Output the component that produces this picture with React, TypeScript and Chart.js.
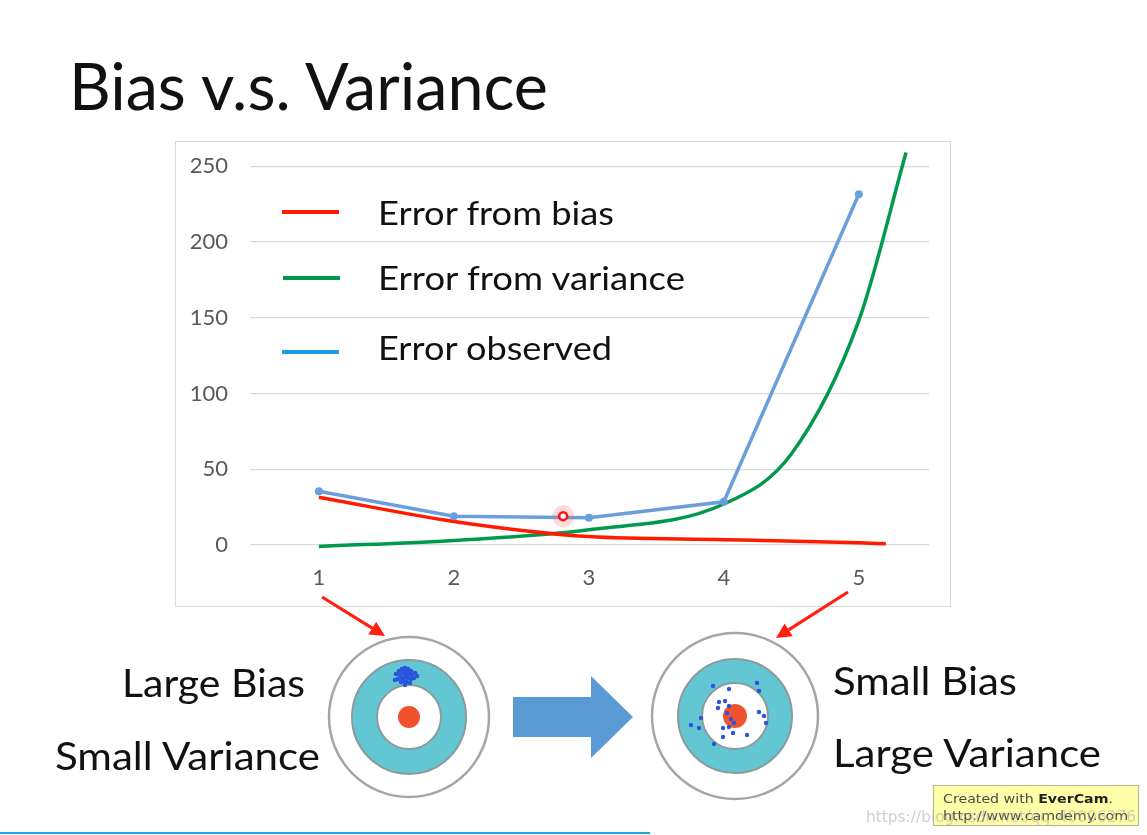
import React, { useEffect, useRef } from "react";
import { Chart, registerables } from "chart.js";
Chart.register(...registerables);

// ---- data ----
const xTicks = [1, 2, 3, 4, 5];
const yTicks = [0, 50, 100, 150, 200, 250];
const biasX = [1, 2, 3, 4, 5, 5.2];
const biasY = [31.5, 15.5, 5.5, 3.5, 1.4, 0.8];
const varianceX = [1, 2, 3, 4, 4.5, 5, 5.35];
const varianceY = [-1, 3, 10, 27, 60, 148, 259];
const observedX = [1, 2, 3, 4, 5];
const observedY = [35.5, 19, 18, 28.5, 231.5];
const cursorX = [2.81];
const cursorY = [19];
const legendLabels = ["Error from bias", "Error from variance", "Error observed"];
const titleText = "Bias v.s. Variance";

// decorative dot offsets for the targets
const leftCluster = [
  [-10, -3], [-7, -6], [-4, -8], [-1, -9], [2, -8], [5, -6], [-6, -2], [-3, -4], [0, -5], [3, -3],
  [6, -2], [9, -4], [-8, 2], [-4, 1], [-1, 0], [2, 1], [5, 2], [8, 1], [-5, 5], [-2, 4], [1, 5],
  [4, 6], [-1, 8], [11, -1], [-11, 3], [0, -2], [-2, -7], [3, -6],
];
const rightDots = [
  [713, 686], [729, 689], [757, 683], [759, 691], [719, 702], [725, 701], [718, 708], [729, 706],
  [701, 718], [691, 725], [699, 728], [759, 712], [764, 716], [766, 723], [731, 719], [734, 723],
  [723, 728], [729, 727], [733, 733], [723, 737], [747, 735], [714, 744], [727, 713],
];

const zip = (xs: number[], ys: number[]) => xs.map((x, i) => ({ x, y: ys[i] }));

function arrowHead(x1: number, y1: number, x2: number, y2: number, len: number, half: number) {
  const dx = x2 - x1, dy = y2 - y1;
  const d = Math.hypot(dx, dy);
  const ux = dx / d, uy = dy / d;
  const bx = x2 - ux * len, by = y2 - uy * len;
  const px = -uy * half, py = ux * half;
  return {
    pts: `${x2},${y2} ${bx + px},${by + py} ${bx - px},${by - py}`,
    bx, by,
  };
}

function RedArrow({ x1, y1, x2, y2 }: { x1: number; y1: number; x2: number; y2: number }) {
  const h = arrowHead(x1, y1, x2, y2, 15, 7.5);
  return (
    <g>
      <line x1={x1} y1={y1} x2={h.bx} y2={h.by} stroke="#ff2010" strokeWidth={3.2} />
      <polygon points={h.pts} fill="#ff2010" />
    </g>
  );
}

function Target({ cx, cy, r1, r2, r3, r4 }: any) {
  return (
    <g>
      <circle cx={cx} cy={cy} r={r1} fill="#ffffff" stroke="#a6a6a6" strokeWidth={2.5} />
      <circle cx={cx} cy={cy} r={r2} fill="#62c7d3" stroke="#8c9a9c" strokeWidth={2} />
      <circle cx={cx} cy={cy} r={r3} fill="#ffffff" stroke="#8c9a9c" strokeWidth={2} />
      <circle cx={cx} cy={cy} r={r4} fill="#f0522e" />
    </g>
  );
}

export default function App() {
  const ref = useRef<HTMLCanvasElement | null>(null);

  useEffect(() => {
    if (!ref.current) return;
    const tickFont = { family: "Lato", size: 22 };
    const chart = new Chart(ref.current, {
      type: "line",
      data: {
        datasets: [
          {
            label: "cursor-ring",
            data: zip(cursorX, cursorY),
            showLine: false,
            pointRadius: 4,
            pointBackgroundColor: "#ffffff",
            pointBorderColor: "#ff1010",
            pointBorderWidth: 2.5,
            order: 0,
          },
          {
            label: "cursor-glow",
            data: zip(cursorX, cursorY),
            showLine: false,
            pointRadius: 11,
            pointBackgroundColor: "rgba(255,90,90,0.22)",
            pointBorderWidth: 0,
            order: 1,
          },
          {
            label: legendLabels[2],
            data: zip(observedX, observedY),
            borderColor: "#6a9fdc",
            backgroundColor: "#6a9fdc",
            borderWidth: 3.5,
            tension: 0,
            pointRadius: 4,
            pointBackgroundColor: "#6a9fdc",
            pointBorderWidth: 0,
            order: 2,
          },
          {
            label: legendLabels[0],
            data: zip(biasX, biasY),
            borderColor: "#ff1a00",
            borderWidth: 3.5,
            cubicInterpolationMode: "monotone",
            pointRadius: 0,
            order: 3,
          },
          {
            label: legendLabels[1],
            data: zip(varianceX, varianceY),
            borderColor: "#00994d",
            borderWidth: 3.5,
            cubicInterpolationMode: "monotone",
            pointRadius: 0,
            order: 4,
          },
        ],
      },
      options: {
        animation: false,
        responsive: false,
        maintainAspectRatio: false,
        layout: { autoPadding: false, padding: { top: 6, right: 21, left: 0, bottom: 0 } },
        plugins: { legend: { display: false }, tooltip: { enabled: false } },
        datasets: { line: { clip: false } as any },
        scales: {
          x: {
            type: "linear",
            min: 0.49,
            max: 5.52,
            afterBuildTicks: (s: any) => {
              s.ticks = xTicks.map((v) => ({ value: v }));
            },
            afterFit: (s: any) => {
              s.height = 55;
              s.paddingLeft = 0;
              s.paddingRight = 0;
            },
            grid: { display: false },
            border: { display: false },
            ticks: { padding: 6, font: tickFont, color: "#595959", autoSkip: false, maxRotation: 0 },
          },
          y: {
            type: "linear",
            min: -4,
            max: 262,
            afterBuildTicks: (s: any) => {
              s.ticks = yTicks.map((v) => ({ value: v }));
            },
            afterFit: (s: any) => {
              s.width = 74;
              s.paddingTop = 0;
              s.paddingBottom = 0;
            },
            grid: { color: "#d9d9d9", lineWidth: 1.3, drawTicks: false },
            border: { display: false },
            ticks: { padding: 22, font: tickFont, color: "#595959" },
          },
        },
      } as any,
    });
    return () => chart.destroy();
  }, []);

  const font = "Lato, 'Open Sans', sans-serif";

  return (
    <div
      style={{
        position: "absolute",
        left: 0,
        top: 0,
        width: 1147,
        height: 835,
        background: "#ffffff",
        overflow: "hidden",
      }}
    >
      <div
        style={{
          position: "absolute",
          left: 175,
          top: 141,
          width: 774,
          height: 464,
          border: "1px solid #d9d9d9",
        }}
      >
        <canvas ref={ref} width={774} height={464} style={{ width: 774, height: 464, display: "block" }} />
      </div>

      <svg
        width={1147}
        height={835}
        style={{ position: "absolute", left: 0, top: 0, pointerEvents: "none" }}
        fontFamily={font}
      >
        {/* title */}
        <text x={69} y={110} fontSize={66} fontWeight={400} fill="#111" textLength={479} lengthAdjust="spacingAndGlyphs">
          {titleText}
        </text>

        {/* legend */}
        <line x1={282} y1={212} x2={339} y2={212} stroke="#ff1a00" strokeWidth={4} />
        <line x1={283} y1={278} x2={340} y2={278} stroke="#00994d" strokeWidth={4} />
        <line x1={282} y1={352} x2={339} y2={352} stroke="#1e9de3" strokeWidth={4} />
        <text x={378} y={225} fontSize={32} fill="#111" textLength={236} lengthAdjust="spacingAndGlyphs">
          {legendLabels[0]}
        </text>
        <text x={378} y={290} fontSize={32} fill="#111" textLength={307} lengthAdjust="spacingAndGlyphs">
          {legendLabels[1]}
        </text>
        <text x={378} y={360} fontSize={32} fill="#111" textLength={234} lengthAdjust="spacingAndGlyphs">
          {legendLabels[2]}
        </text>

        {/* red arrows */}
        <RedArrow x1={322} y1={597} x2={385} y2={636} />
        <RedArrow x1={848} y1={592} x2={776} y2={638} />

        {/* left target */}
        <Target cx={409} cy={717} r1={80} r2={57} r3={32} r4={11} />
        {leftCluster.map(([dx, dy], i) => (
          <circle key={"l" + i} cx={406 + dx} cy={677 + dy} r={2.3} fill="#2a55dc" />
        ))}

        {/* right target */}
        <Target cx={735} cy={716} r1={83} r2={57} r3={33} r4={12} />
        {rightDots.map(([x, y], i) => (
          <circle key={"r" + i} cx={x} cy={y} r={2.2} fill="#2a55dc" />
        ))}

        {/* big blue arrow */}
        <polygon points="513,697 591,697 591,676 633,717 591,758 591,737 513,737" fill="#5b9bd5" />

        {/* bottom labels */}
        <text x={122} y={697} fontSize={38} fill="#111" textLength={183} lengthAdjust="spacingAndGlyphs">
          Large Bias
        </text>
        <text x={55} y={770} fontSize={38} fill="#111" textLength={265} lengthAdjust="spacingAndGlyphs">
          Small Variance
        </text>
        <text x={833} y={695} fontSize={38} fill="#111" textLength={184} lengthAdjust="spacingAndGlyphs">
          Small Bias
        </text>
        <text x={833} y={767} fontSize={38} fill="#111" textLength={268} lengthAdjust="spacingAndGlyphs">
          Large Variance
        </text>

        {/* watermark box */}
        <rect x={933.5} y={785.5} width={205} height={40} fill="#ffffa8" stroke="#b4b49a" strokeWidth={1} />
        <text x={943} y={803} fontSize={13} fill="#4a4a4a" fontFamily="'DejaVu Sans', sans-serif" textLength={170} lengthAdjust="spacingAndGlyphs">
          Created with <tspan fontWeight={700} fill="#222">EverCam</tspan>.
        </text>
        <text x={943} y={820} fontSize={13} fill="#4a4a4a" fontFamily="'DejaVu Sans', sans-serif" textLength={185} lengthAdjust="spacingAndGlyphs">
          http://www.camdemy.com
        </text>
        <text x={866} y={822} fontSize={15} fill="rgba(170,170,170,0.55)" fontFamily="'DejaVu Sans', sans-serif" textLength={270} lengthAdjust="spacingAndGlyphs">
          https://blog.csdn.net/qq_40006276
        </text>

        {/* bottom blue line */}
        <rect x={0} y={832} width={650} height={2} fill="#1aa8e6" />
      </svg>
    </div>
  );
}
